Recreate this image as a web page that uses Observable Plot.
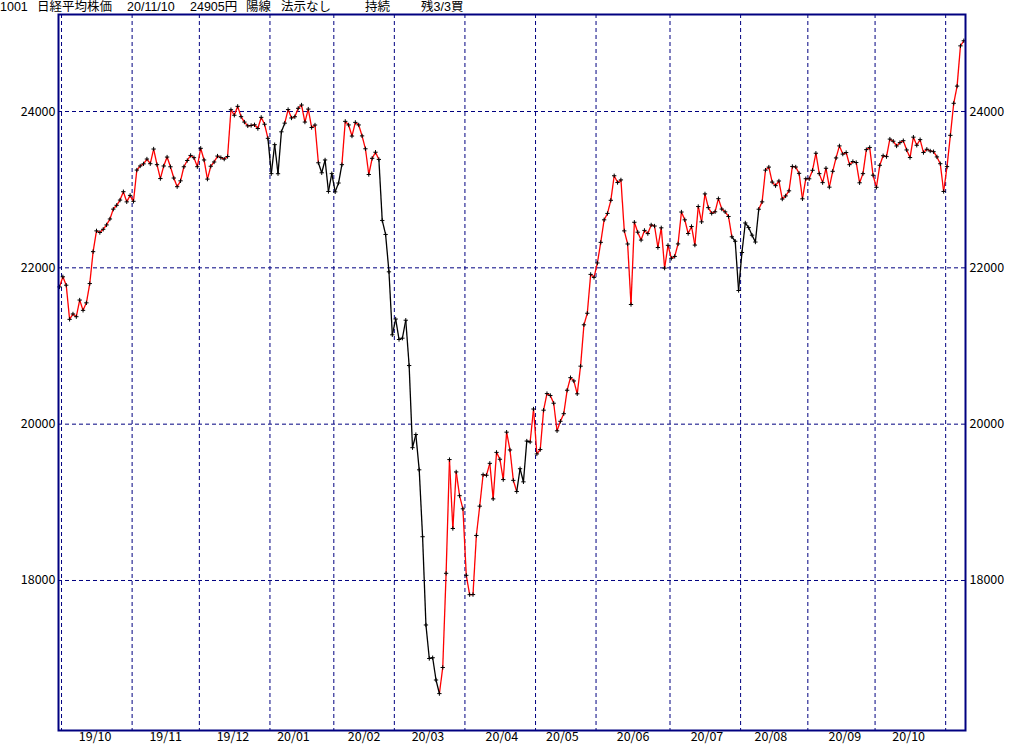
<!DOCTYPE html>
<html><head><meta charset="utf-8">
<script src="https://cdn.jsdelivr.net/npm/d3@7"></script>
<script src="https://cdn.jsdelivr.net/npm/@observablehq/plot@0.6"></script>
<style>
body{margin:0;background:#fff;font-family:"Noto Sans CJK JP","Noto Sans",sans-serif;}
#wrap{position:relative;width:1024px;height:745px;overflow:hidden;}
#chart{position:absolute;left:0;top:0;}
#title{position:absolute;left:0;top:0;width:1024px;height:15px;z-index:2;}
#title span{position:absolute;top:1px;height:13px;font-family:"Liberation Sans","Noto Sans CJK JP",sans-serif;font-size:12.5px;line-height:13px;white-space:nowrap;color:#000;}
</style></head><body>
<div id="wrap"><div id="chart"></div><div id="title"></div></div>
<script>
// ---- data ----
const titleWords = ["1001","日経平均株価","20/11/10","24905円","陽線","法示なし","持続","残3/3買"];
const monthLabels = ["19/10","19/11","19/12","20/01","20/02","20/03","20/04","20/05","20/06","20/07","20/08","20/09","20/10"];
const yTicks = [18000, 20000, 22000, 24000];

const closeSep2019 = [21756];
const closeOct2019 = [21885,21778,21341,21410,21375,21588,21456,21552,21799,22207,22473,22452,22493,22549,22625,22751,22800,22867,22974,22844,22927];
const closeNov2019 = [22851,23251,23303,23330,23392,23332,23520,23320,23142,23303,23417,23293,23149,23038,23113,23293,23373,23438,23409,23294];
const closeDec2019 = [23529,23380,23135,23300,23354,23430,23410,23391,23424,24023,23952,24066,23934,23865,23816,23821,23830,23782,23925,23837,23657];
const closeJan2020 = [23205,23576,23204,23740,23851,24025,23917,23933,24041,24083,23865,24031,23795,23827,23344,23216,23380,22977,23205];
const closeFeb2020 = [22972,23085,23320,23874,23828,23686,23861,23828,23688,23523,23194,23401,23479,23387,22606,22427,21949,21143];
const closeMar2020 = [21345,21083,21100,21330,20750,19699,19867,19416,18560,17431,17002,17012,16727,16553,16887,18092,19547,18665,19389,19085,18917];
const closeApr2020 = [18066,17819,17820,18576,18951,19353,19346,19499,19044,19639,19551,19291,19898,19670,19281,19138,19430,19262,19784,19772,20194];
const closeMay2020 = [19619,19675,20179,20391,20367,20268,19915,20037,20134,20434,20595,20553,20388,20742,21271,21419,21916,21878];
const closeJun2020 = [22062,22326,22614,22696,22864,23178,23091,23125,22473,22305,21531,22583,22456,22355,22479,22438,22549,22535,22260,22512,21996,22288];
const closeJul2020 = [22122,22146,22306,22714,22614,22439,22529,22291,22785,22588,22946,22770,22697,22717,22885,22752,22716,22657,22397,22340,21710];
const closeAug2020 = [22196,22574,22515,22418,22330,22750,22844,23250,23289,23097,23051,23111,22880,22920,22985,23297,23290,23209,22883,23140];
const closeSep2020 = [23139,23248,23466,23205,23090,23274,23032,23235,23406,23560,23455,23475,23320,23360,23347,23088,23205,23512,23540,23185];
const closeOct2020 = [23030,23312,23434,23423,23647,23620,23559,23602,23627,23508,23411,23672,23568,23640,23475,23517,23495,23486,23419,23332,22977];
const closeNov2020 = [23295,23695,24105,24325,24840,24905];

// trading-day ordinal (1-based) of mid-month (16th or next session) in each labelled month
const midMonthOrdinal = [11,11,11,8,10,11,12,9,12,12,10,12,11];
// sell-signal spans (trading-day index, inclusive)
const sellSpans = [[63,67],[78,84],[96,113],[137,140],[201,208]];

// ---- layout ----
const titleLeft = [0,37,127,190,246,281,365,421];
const navy = "#000080";
const dayOffset = -0.4;

const months = [closeOct2019,closeNov2019,closeDec2019,closeJan2020,closeFeb2020,closeMar2020,closeApr2020,closeMay2020,closeJun2020,closeJul2020,closeAug2020,closeSep2020,closeOct2020,closeNov2020];
const closes = [closeSep2019, ...months].flat();
const rows = closes.map((v,i)=>({i, v}));
const isSell = i => sellSpans.some(([a,b]) => i >= a && i <= b);
const segs = rows.slice(1).map((d,k)=>({x1:rows[k].i, y1:rows[k].v, x2:d.i, y2:d.v, sell:isSell(d.i)}));

const firsts = []; let idx = closeSep2019.length;
months.forEach(m => { firsts.push(idx); idx += m.length; });
const gridX = firsts.map(f => f + dayOffset);
const labelPos = midMonthOrdinal.map((o,k) => firsts[k] + o - 1 + dayOffset);
const labelMap = new Map(labelPos.map((p,k)=>[p, monthLabels[k]]));

const fmt = d3.format("d");
const chart = Plot.plot({
  width: 1024, height: 745,
  marginLeft: 58, marginRight: 59, marginTop: 14, marginBottom: 15,
  style: {fontFamily: '"Noto Sans CJK JP","Noto Sans",sans-serif', fontSize: "12.5px", background: "white", color: "black"},
  x: {domain: [-0.3, 269.5], axis: null},
  y: {domain: [16081, 25241], axis: null},
  marks: [
    Plot.ruleY(yTicks, {stroke: navy, strokeDasharray: "4,3", strokeWidth: 1}),
    Plot.ruleX(gridX, {stroke: navy, strokeDasharray: "4,3", strokeWidth: 1}),
    Plot.link(segs.filter(d => !d.sell), {x1:"x1", y1:"y1", x2:"x2", y2:"y2", stroke: "#ff0000", strokeWidth: 1.3}),
    Plot.link(segs.filter(d => d.sell), {x1:"x1", y1:"y1", x2:"x2", y2:"y2", stroke: "#000000", strokeWidth: 1.3}),
    Plot.dot(rows, {x:"i", y:"v", symbol:"plus", r:1.5, stroke:"black", strokeWidth:1}),
    Plot.frame({stroke: navy, strokeWidth: 2}),
    Plot.axisY(yTicks, {anchor:"left", tickSize:0, tickPadding:3, tickFormat: fmt}),
    Plot.axisY(yTicks, {anchor:"right", tickSize:0, tickPadding:4, tickFormat: fmt}),
    Plot.axisX(labelPos, {anchor:"bottom", tickSize:0, tickPadding:2, tickFormat: d => labelMap.get(d)})
  ]
});
document.getElementById("chart").appendChild(chart);

const t = document.getElementById("title");
titleWords.forEach((w,k) => {
  const s = document.createElement("span");
  s.textContent = w; s.style.left = titleLeft[k] + "px";
  t.appendChild(s);
});
</script>
</body></html>
